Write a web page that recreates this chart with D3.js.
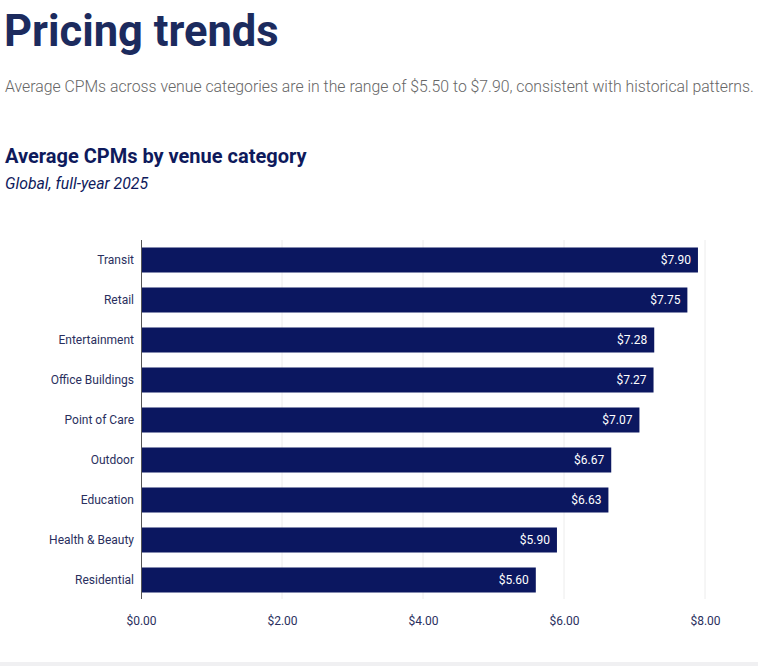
<!DOCTYPE html>
<html><head><meta charset="utf-8">
<script src="https://cdn.jsdelivr.net/npm/d3@7"></script>
<style>
html,body{margin:0;padding:0;background:#fff;}
svg{display:block;}
</style></head>
<body>
<svg id="c" width="758" height="666"></svg>
<script>
const categories = ["Transit","Retail","Entertainment","Office Buildings","Point of Care","Outdoor","Education","Health & Beauty","Residential"];
const cpmValues = [7.90,7.75,7.28,7.27,7.07,6.67,6.63,5.90,5.60];
const tickValues = [0,2,4,6,8];

const svg = d3.select("#c");
svg.append("rect").attr("x",0).attr("y",662).attr("width",758).attr("height",4).attr("fill","#f0f0f2");

svg.append("text").attr("x",4).attr("y",46).attr("font-family","Roboto").attr("font-weight",700)
  .attr("font-size",43.5).attr("fill","#1c2b5e").text("Pricing trends");
svg.append("text").attr("x",5).attr("y",92).attr("font-family","Roboto").attr("font-weight",300)
  .attr("font-size",15.8).attr("fill","#666").text("Average CPMs across venue categories are in the range of $5.50 to $7.90, consistent with historical patterns.");
svg.append("text").attr("x",5).attr("y",163).attr("font-family","Roboto").attr("font-weight",700)
  .attr("font-size",20).attr("fill","#0e1a5c").text("Average CPMs by venue category");
svg.append("text").attr("x",5).attr("y",189).attr("font-family","Roboto").attr("font-style","italic")
  .attr("font-size",15.8).attr("fill","#0e1a5c").text("Global, full-year 2025");

const x = d3.scaleLinear().domain([0,8]).range([141,705]);
const y = d3.scaleBand().domain(categories).range([240,600]).paddingInner(0.375).paddingOuter(0.1875);

const g = svg.append("g");
g.selectAll("line.grid").data(tickValues.slice(1)).join("line").attr("class","grid")
  .attr("x1",d=>x(d)).attr("x2",d=>x(d)).attr("y1",240).attr("y2",599)
  .attr("stroke","#ececec").attr("stroke-width",1);

g.selectAll("rect.bar").data(categories).join("rect").attr("class","bar")
  .attr("x",x(0)).attr("y",d=>y(d)).attr("width",(d,i)=>x(cpmValues[i])-x(0)).attr("height",y.bandwidth())
  .attr("fill","#0b1760");

g.selectAll("text.val").data(categories).join("text").attr("class","val")
  .attr("x",(d,i)=>x(cpmValues[i])-7).attr("y",d=>y(d)+y.bandwidth()/2).attr("dy","0.35em")
  .attr("text-anchor","end").attr("font-family","Roboto").attr("font-size",12).attr("fill","#fff")
  .text((d,i)=>"$"+cpmValues[i].toFixed(2));

const yAxis = d3.axisLeft(y).tickSize(0).tickPadding(7);
const ya = svg.append("g").attr("transform",`translate(${x(0)},0)`).call(yAxis);
ya.select(".domain").attr("stroke","#555").attr("d","M0.5,240V599");
ya.selectAll("text").attr("font-family","Roboto").attr("font-size",12).attr("fill","#2a2f5e");

const xAxis = d3.axisBottom(x).tickValues(tickValues).tickSize(0).tickPadding(10).tickFormat(d=>"$"+d.toFixed(2));
const xa = svg.append("g").attr("transform","translate(0,606)").call(xAxis);
xa.select(".domain").remove();
xa.selectAll("text").attr("font-family","Roboto").attr("font-size",12).attr("fill","#2a2f5e");
</script>
</body></html>
